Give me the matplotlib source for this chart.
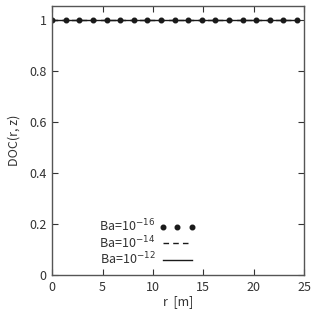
import matplotlib
matplotlib.use('Agg')
import matplotlib.pyplot as plt

plt.rcParams['font.family'] = ['Noto Sans CJK JP', 'DejaVu Sans']

# r grid [m] and DOC values (all 1 for every Ba)
r = [0.0, 1.35, 2.7, 4.05, 5.4, 6.75, 8.1, 9.45, 10.8, 12.15,
     13.5, 14.85, 16.2, 17.55, 18.9, 20.25, 21.6, 22.95, 24.3]
doc_16 = [1.0] * 19
doc_14 = [1.0] * 19
doc_12 = [1.0] * 19

xticks = [0, 5, 10, 15, 20, 25]
yticks = [0, 0.2, 0.4, 0.6, 0.8, 1]
ytick_labels = ['0', '0.2', '0.4', '0.6', '0.8', '1']

fig = plt.figure(figsize=(3.16, 3.10), dpi=100)
ax = fig.add_axes([0.165, 0.113, 0.797, 0.868])

ax.plot(r, doc_16, linestyle='none', marker='o', markersize=3.3, color='#1a1a1a',
        label='Ba=10$^{-16}$')
ax.plot(r, doc_14, linestyle=(0, (4, 3)), linewidth=1, color='#1a1a1a',
        label='Ba=10$^{-14}$')
ax.plot(r, doc_12, linestyle='-', linewidth=1, color='#1a1a1a',
        label='Ba=10$^{-12}$')

ax.set_xlim(0, 25)
ax.set_ylim(0, 1.055)
ax.set_xticks(xticks)
ax.set_yticks(yticks)
ax.set_yticklabels(ytick_labels)
ax.tick_params(direction='in', length=4, width=0.8, top=True, right=True,
               labelsize=9, colors='#333333', pad=4)
for s in ax.spines.values():
    s.set_color('#555555')
    s.set_linewidth(1)

ax.set_xlabel('r  [m]', fontsize=9, color='#333333', labelpad=1)
ax.set_ylabel('DOC(r, z)', fontsize=9, color='#333333', labelpad=6)

leg = ax.legend(loc='lower left', bbox_to_anchor=(0.157, 0.0), frameon=False,
                markerfirst=False, numpoints=3, handlelength=2.9,
                fontsize=9, labelspacing=0.0, handletextpad=0.3,
                borderaxespad=0.2)
for t in leg.get_texts():
    t.set_color('#333333')

fig.savefig('out.png', dpi=100)
